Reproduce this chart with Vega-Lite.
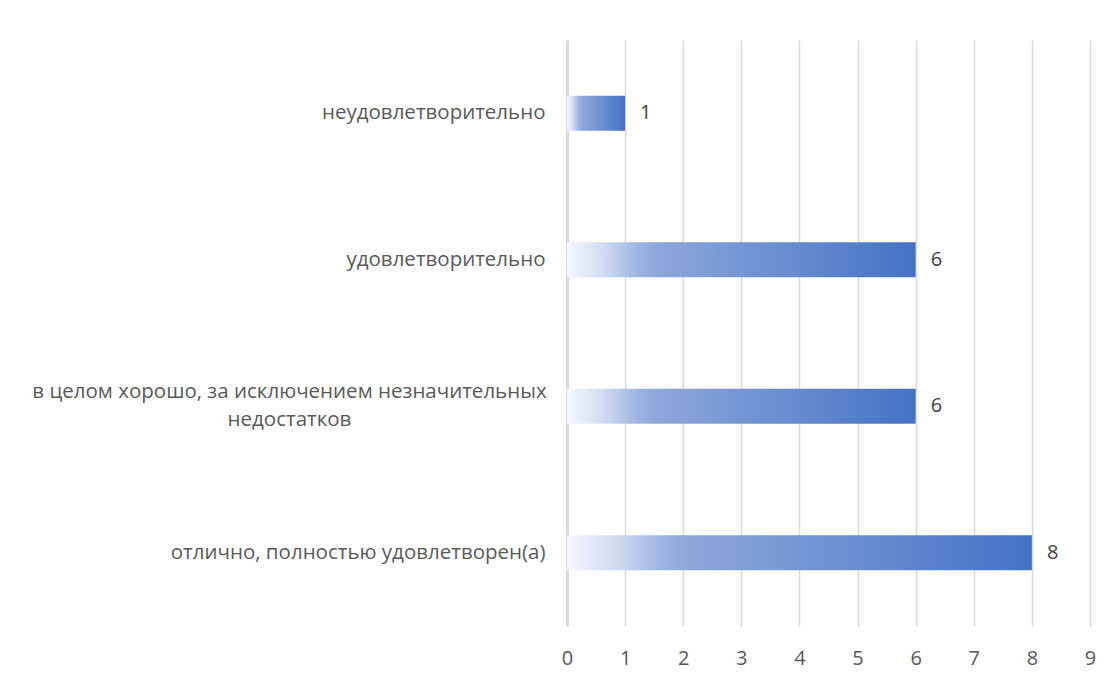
{
  "$schema": "https://vega.github.io/schema/vega-lite/v6.json",
  "autosize": "none",
  "width": 523,
  "height": 586,
  "padding": {"left": 567, "top": 40, "right": 24, "bottom": 56},
  "background": "#ffffff",
  "config": {
    "view": {"stroke": null},
    "font": "Open Sans"
  },
  "data": {
    "values": [
      {"category": "неудовлетворительно", "count": 1},
      {"category": "удовлетворительно", "count": 6},
      {"category": "в целом хорошо, за исключением незначительных недостатков", "count": 6},
      {"category": "отлично, полностью удовлетворен(а)", "count": 8}
    ]
  },
  "encoding": {
    "y": {
      "field": "category",
      "type": "nominal",
      "sort": null,
      "scale": {"paddingInner": 0.76, "paddingOuter": 0.38},
      "axis": {
        "title": null,
        "domain": false,
        "ticks": false,
        "tickSize": 0,
        "labelFontSize": 20.5,
        "labelColor": "#595959",
        "labelFont": "Open Sans",
        "labelLimit": 700,
        "labelLineHeight": 28,
        "labelExpr": "datum.label == 'в целом хорошо, за исключением незначительных недостатков' ? ['в целом хорошо, за исключением незначительных', 'недостатков'] : datum.label",
        "labelAlign": {"condition": {"test": "datum.value == 'в целом хорошо, за исключением незначительных недостатков'", "value": "center"}, "value": "right"},
        "labelPadding": {"condition": {"test": "datum.value == 'в целом хорошо, за исключением незначительных недостатков'", "value": 278}, "value": 22},
        "labelOffset": {"condition": {"test": "datum.value == 'в целом хорошо, за исключением незначительных недостатков'", "value": -14}, "value": 0}
      }
    },
    "x": {
      "field": "count",
      "type": "quantitative",
      "scale": {"domain": [0, 9], "nice": false},
      "axis": {
        "title": null,
        "values": [0, 1, 2, 3, 4, 5, 6, 7, 8, 9],
        "domain": false,
        "ticks": false,
        "tickSize": 0,
        "labelFlush": false,
        "labelPadding": 22,
        "labelFontSize": 20,
        "labelColor": "#595959",
        "labelFont": "Open Sans",
        "grid": true,
        "gridColor": "#d9d9d9",
        "gridWidth": {"condition": {"test": "datum.value == 0", "value": 3}, "value": 1.5}
      }
    }
  },
  "layer": [
    {
      "mark": {
        "type": "bar",
        "fill": {
          "gradient": "linear",
          "x1": 0, "y1": 0, "x2": 1, "y2": 0,
          "stops": [
            {"offset": 0, "color": "#f4f7fc"},
            {"offset": 0.1, "color": "#d3ddf2"},
            {"offset": 0.2, "color": "#9fb6e2"},
            {"offset": 0.26, "color": "#8da7db"},
            {"offset": 1, "color": "#4472c4"}
          ]
        }
      }
    },
    {
      "mark": {"type": "text", "align": "left", "dx": 15, "fontSize": 20, "color": "#404040", "font": "Open Sans"},
      "encoding": {"text": {"field": "count", "type": "quantitative"}}
    }
  ]
}
